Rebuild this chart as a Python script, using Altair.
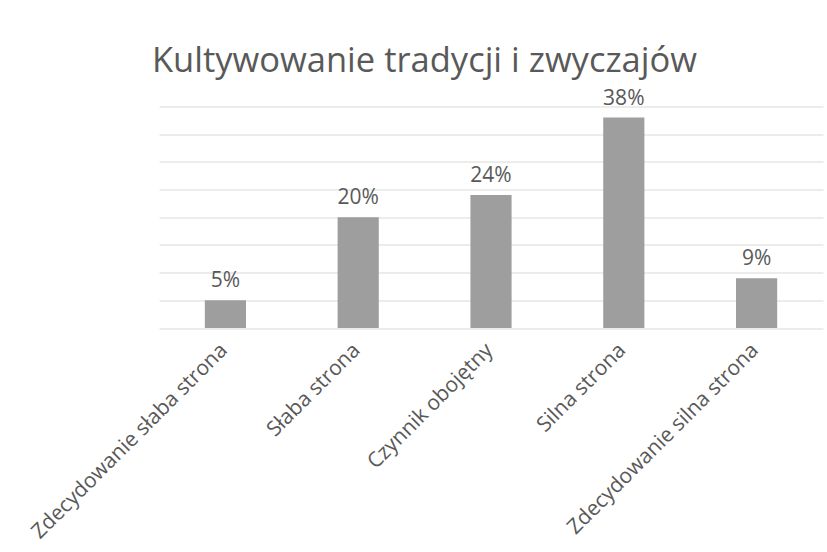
import altair as alt
import pandas as pd

# Survey answers: how tradition and custom cultivation is rated
categories = [
    "Zdecydowanie słaba strona",
    "Słaba strona",
    "Czynnik obojętny",
    "Silna strona",
    "Zdecydowanie silna strona",
]
shares = [5, 20, 24, 38, 9]
percent_labels = ["5%", "20%", "24%", "38%", "9%"]
y_ticks = [0, 5, 10, 15, 20, 25, 30, 35, 40]

df = pd.DataFrame({"kategoria": categories, "udzial": shares, "etykieta": percent_labels})

FONT = "Open Sans"
TEXT = "#595959"
LABEL_SIZE = 21

x_enc = alt.X(
    "kategoria:N",
    sort=categories,
    title=None,
    scale=alt.Scale(paddingInner=0.69, paddingOuter=0.345),
    axis=alt.Axis(
        labelAngle=-45,
        labelAlign="right",
        labelBaseline="top",
        labelPadding=11,
        labelOffset=-9,
        labelFont=FONT,
        labelFontSize=LABEL_SIZE,
        labelColor=TEXT,
        labelLimit=0,
        ticks=False,
        domain=False,
        grid=False,
    ),
)
y_enc = alt.Y(
    "udzial:Q",
    title=None,
    scale=alt.Scale(domain=[0, 40], nice=False),
    axis=alt.Axis(
        values=y_ticks,
        labels=False,
        ticks=False,
        domain=False,
        grid=True,
        gridColor="#d9d9d9",
        gridWidth=1,
    ),
)

bars = alt.Chart(df).mark_bar(color="#9e9e9e").encode(x=x_enc, y=y_enc)

labels = alt.Chart(df).mark_text(
    font=FONT, fontSize=LABEL_SIZE, color=TEXT, baseline="alphabetic", dy=-13
).encode(
    x=x_enc,
    y=y_enc,
    text="etykieta:N",
)

chart = (
    alt.layer(bars, labels)
    .properties(
        width=664,
        height=221.5,
        autosize=alt.AutoSizeParams(type="none"),
        padding={"left": 159, "top": 106.5, "right": 4, "bottom": 224},
        background="white",
        title=alt.TitleParams(
            "Kultywowanie tradycji i zwyczajów",
            anchor="start",
            frame="group",
            font=FONT,
            fontSize=34.5,
            fontWeight="normal",
            color=TEXT,
            baseline="alphabetic",
            offset=12,
            dx=-7,
            dy=31,
        ),
    )
    .configure_view(stroke=None)
)

chart.save("out.html", embed_options={"renderer": "svg", "actions": False})
